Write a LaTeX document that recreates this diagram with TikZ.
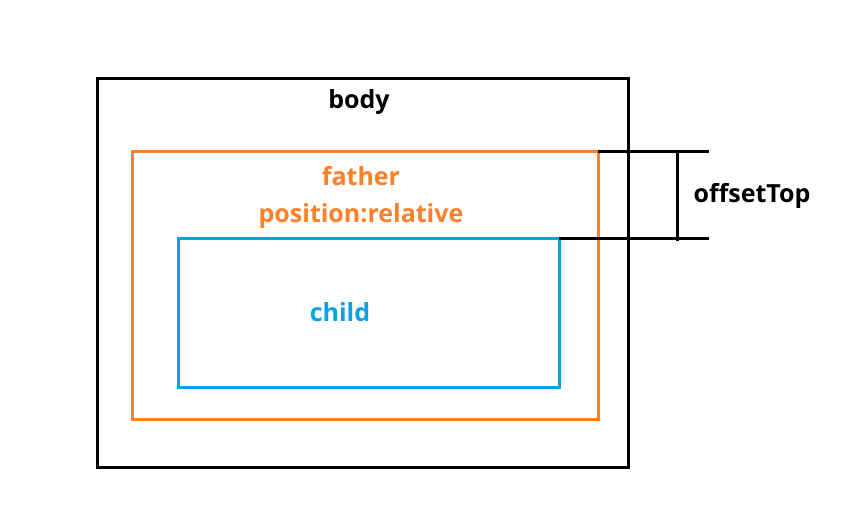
\documentclass[tikz,border=0pt]{standalone}
\usepackage{fontspec}
\setmainfont{Open Sans}
\definecolor{fathercol}{RGB}{255,128,40}
\definecolor{childcol}{RGB}{14,160,226}
\tikzset{
  box/.style={draw,line width=3pt,inner sep=0pt,outer sep=0pt},
  lbl/.style={font=\fontsize{25}{28}\selectfont\bfseries,inner sep=0pt},
  tickline/.style={line width=3pt}
}
\begin{document}
\begin{tikzpicture}
        [x=1pt,y=-1pt]
        \useasboundingbox (0,0) rectangle (868,516);

        \node[box,minimum width=531pt,minimum height=388pt] (body) at (362.5,273) {};
        \node[box,draw=fathercol,minimum width=466pt,minimum height=267pt] (father) at (365,285.5) {};
        \node[box,draw=childcol,minimum width=381pt,minimum height=149pt] (child) at (368.5,312.5) {};

        \node[lbl] (bodytxt) at (359,102) {body};
        \node[lbl,text=fathercol] (fathertxt) at (361,176) {father};
        \node[lbl,text=fathercol] (postxt) at (361,216) {position:relative};
        \node[lbl,text=childcol] (childtxt) at (340,312) {child};
        \node[lbl] (offtxt) at (752,196) {offsetTop};

        \coordinate (ftop) at (709,152);
        \coordinate (ctop) at (709,238);
        \coordinate (vtop) at (677,152);
        \coordinate (vbot) at (677,241);

        \draw[tickline] (father.north east) -- (ftop);
        \draw[tickline] (child.north east) -- (ctop);
        \draw[tickline] (vtop) -- (vbot);
      \end{tikzpicture}
\end{document}
